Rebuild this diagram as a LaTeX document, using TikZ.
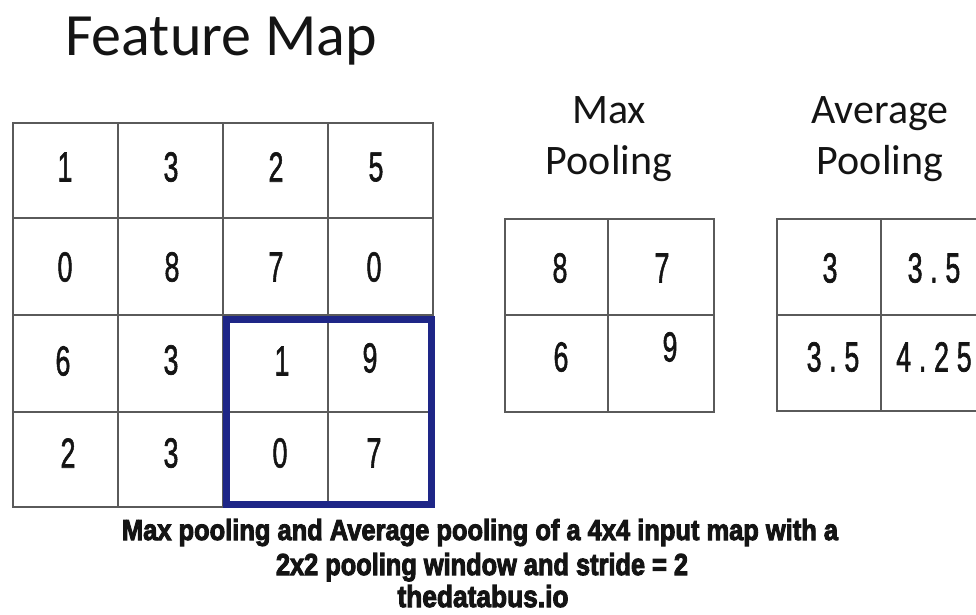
\documentclass[tikz,border=0pt]{standalone}
\usepackage{fontspec}
\setmainfont{Carlito}
\newfontfamily\digitfont[FakeBold=1.6]{Liberation Sans}
\newfontfamily\capfont[BoldFeatures={FakeBold=3.5}]{Liberation Sans}
\definecolor{gridgray}{RGB}{90,90,90}
\definecolor{winblue}{RGB}{30,38,135}
\definecolor{inkblack}{RGB}{20,20,20}
\newcommand{\dg}[1]{\scalebox{0.64}[1]{\digitfont\fontsize{42}{42}\selectfont #1}}
\newcommand{\gp}{\kern12pt}
\begin{document}
\begin{tikzpicture}[x=1pt,y=-1pt,
  gridline/.style={draw=gridgray,line width=1.8pt},
  digit/.style={inner sep=0pt,text=inkblack},
  head/.style={inner sep=0pt,anchor=base,text=inkblack,font=\fontsize{42}{42}\selectfont},
  captxt/.style={inner sep=0pt,anchor=base,text=inkblack}]
\useasboundingbox (0,0) rectangle (976,615);
\clip (0,0) rectangle (976,615);
% title
\node[inner sep=0pt,anchor=base west,text=inkblack,font=\fontsize{60}{60}\selectfont] (title) at (65,56) {Feature Map};
% feature map grid
\draw[gridline] (13,123) rectangle (433,507);
\foreach \x in {118,223,328} \draw[gridline] (\x,123) -- (\x,507);
\foreach \y in {218,315,412} \draw[gridline] (13,\y) -- (433,\y);
% digits feature map
\node[digit] (f11) at (65,167) {\dg{1}};
\node[digit] (f12) at (171,167) {\dg{3}};
\node[digit] (f13) at (276,167) {\dg{2}};
\node[digit] (f14) at (376,167) {\dg{5}};
\node[digit] (f21) at (65,267) {\dg{0}};
\node[digit] (f22) at (172,267) {\dg{8}};
\node[digit] (f23) at (276,267) {\dg{7}};
\node[digit] (f24) at (374,267) {\dg{0}};
\node[digit] (f31) at (63,361) {\dg{6}};
\node[digit] (f32) at (171,360) {\dg{3}};
\node[digit] (f33) at (282,361) {\dg{1}};
\node[digit] (f34) at (370,358) {\dg{9}};
\node[digit] (f41) at (68,453) {\dg{2}};
\node[digit] (f42) at (171,453) {\dg{3}};
\node[digit] (f43) at (280,453) {\dg{0}};
\node[digit] (f44) at (374,453) {\dg{7}};
% pooling window
\draw[draw=winblue,line width=7pt] (226.5,319) rectangle (431,504);
% max pooling
\node[head] (maxa) at (609,124) {Max};
\node[head] (maxb) at (609,174) {Pooling};
\draw[gridline] (505,219) rectangle (714,412);
\draw[gridline] (608,219) -- (608,412);
\draw[gridline] (505,315) -- (714,315);
\node[digit] (m11) at (560,268) {\dg{8}};
\node[digit] (m12) at (662,268) {\dg{7}};
\node[digit] (m21) at (561,357) {\dg{6}};
\node[digit] (m22) at (670,347) {\dg{9}};
% average pooling
\node[head] (avga) at (880,124) {Average};
\node[head] (avgb) at (880,174) {Pooling};
\draw[gridline] (777,219) rectangle (990,411);
\draw[gridline] (881,219) -- (881,411);
\draw[gridline] (777,315) -- (990,315);
\node[digit] (a11) at (830,268) {\dg{3}};
\node[digit] (a12) at (934,268) {\dg{3\gp.\gp5}};
\node[digit] (a21) at (833,357) {\dg{3\gp.\gp5}};
\node[digit] (a22) at (934,357) {\dg{4\gp.\gp2\gp5}};
% caption
\node[captxt] (cap1) at (480,540) {\resizebox{716pt}{21pt}{\capfont\bfseries Max pooling and Average pooling of a 4x4 input map with a}};
\node[captxt] (cap2) at (482,575) {\resizebox{412pt}{22pt}{\capfont\bfseries 2x2 pooling window and stride = 2}};
\node[captxt] (cap3) at (483,607) {\resizebox{171pt}{22pt}{\capfont\bfseries thedatabus.io}};
\end{tikzpicture}
\end{document}
